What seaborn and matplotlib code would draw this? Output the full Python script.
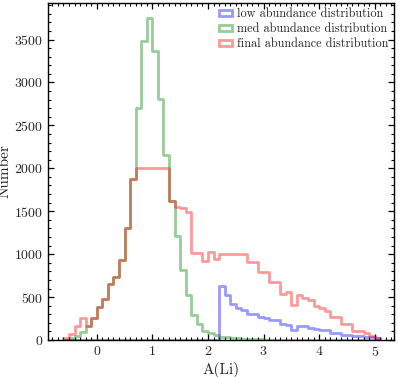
import numpy as np
import pandas as pd
import matplotlib
matplotlib.use('Agg')
import matplotlib.pyplot as plt
from matplotlib.patches import Patch
from matplotlib.ticker import MultipleLocator
import seaborn as sns

# bin edges in A(Li), 0.1 dex wide, from -0.6 to 5.1
edges = np.round(np.arange(-0.6, 5.101, 0.1), 2)
centers = edges[:-1] + 0.05

# counts per bin
low_counts = [0, 0, 0, 0, 0, 0, 0, 0, 0, 0, 0, 0, 0, 0, 0, 0, 0, 0, 0, 0,
              0, 0, 0, 0, 0, 0, 0, 0, 630, 525, 415, 368, 345, 298, 298, 272,
              260, 232, 232, 182, 175, 120, 165, 163, 144, 128, 113, 113, 86,
              86, 63, 63, 46, 46, 31, 31, 20]
med_counts = [5, 20, 50, 90, 165, 260, 380, 475, 657, 734, 935, 1310, 1870,
              2705, 3480, 3745, 3365, 2805, 2160, 1620, 1208, 815, 519, 290,
              190, 110, 78, 58, 40, 30, 25, 20, 16, 13, 10, 8, 6, 5, 4, 4, 3,
              3, 2, 2, 2, 2, 1, 1, 1, 1, 1, 1, 0, 0, 0, 0, 0]
final_counts = [20, 70, 165, 260, 165, 260, 380, 475, 657, 734, 935, 1310,
                1870, 2000, 2000, 2000, 2000, 2000, 2000, 1620, 1555, 1540,
                1490, 1015, 1015, 920, 1020, 945, 1000, 1000, 1000, 1000, 1000,
                908, 908, 795, 795, 674, 674, 531, 555, 405, 519, 488, 465,
                395, 368, 340, 270, 270, 182, 182, 105, 105, 78, 46, 20]

labels = ['low abundance distribution', 'med abundance distribution',
          'final abundance distribution']
colors = ['blue', 'green', 'red']

sns.set_style('ticks')
plt.rcParams['font.family'] = ['cmr10', 'DejaVu Serif']
plt.rcParams['axes.formatter.use_mathtext'] = True
plt.rcParams['mathtext.fontset'] = 'cm'

fig, ax = plt.subplots(figsize=(3.98, 3.77), dpi=100)
fig.subplots_adjust(left=0.121, right=0.989, bottom=0.098, top=0.992)

for counts, col in zip([low_counts, med_counts, final_counts], colors):
    df = pd.DataFrame({'ali': centers, 'n': counts})
    sns.histplot(data=df, x='ali', weights='n', bins=list(edges),
                 element='step', fill=False, color=col, alpha=0.4,
                 linewidth=2, ax=ax)

ax.set_xlim(-0.875, 5.34)
ax.set_ylim(0, 3925)
ax.xaxis.set_major_locator(MultipleLocator(1))
ax.xaxis.set_minor_locator(MultipleLocator(0.1))
ax.yaxis.set_major_locator(MultipleLocator(500))
ax.yaxis.set_minor_locator(MultipleLocator(100))
ax.tick_params(which='both', direction='in', top=True, right=True,
               labelsize=10, color='black')
ax.tick_params(which='major', length=4.5, width=0.9)
ax.tick_params(which='minor', length=2.3, width=0.8)
for sp in ax.spines.values():
    sp.set_color('black')
    sp.set_linewidth(1.0)

ax.set_xlabel('A(Li)', fontsize=11, labelpad=2)
ax.set_ylabel('Number', fontsize=11, labelpad=2)

handles = [Patch(facecolor='none', edgecolor=c, alpha=0.4, linewidth=2)
           for c in colors]
ax.legend(handles, labels, loc='upper right', frameon=False, fontsize=8.8,
          borderaxespad=0.0, labelspacing=0.25, handlelength=1.1,
          handleheight=0.4, handletextpad=0.4)

fig.savefig('out.png', dpi=100)
